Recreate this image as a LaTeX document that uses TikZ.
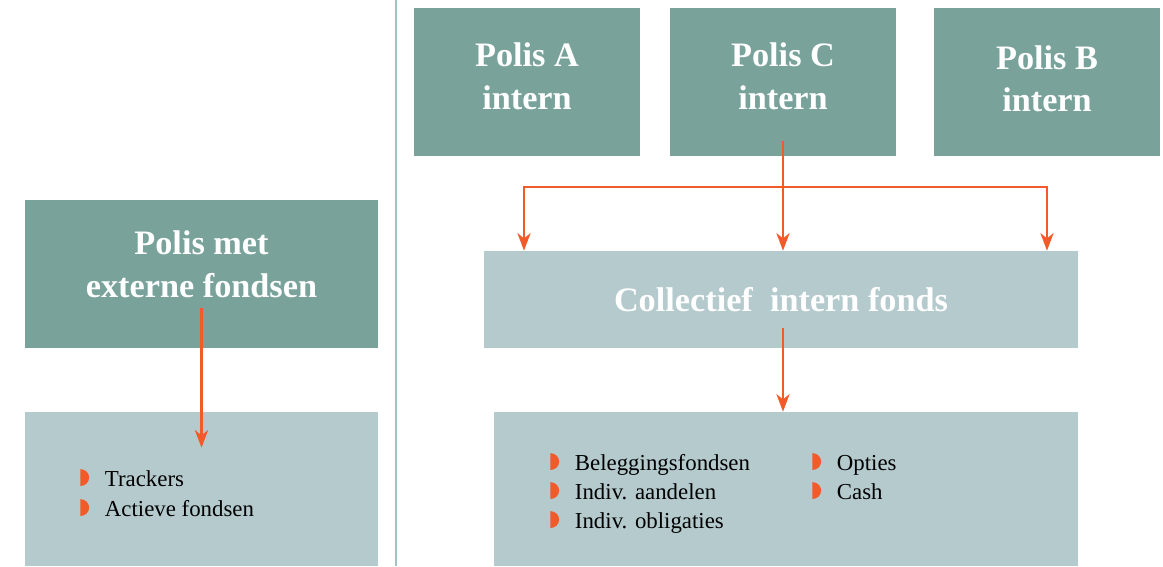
\documentclass[tikz,border=0pt]{standalone}
\usepackage{fontspec}
\setmainfont{Liberation Serif}
\usetikzlibrary{positioning, arrows.meta}

\definecolor{tealdark}{HTML}{78A29A}
\definecolor{teallight}{HTML}{B4CACD}
\definecolor{arroworange}{HTML}{F15A29}

\newcommand{\halfdot}{\tikz[baseline=0pt]\fill[arroworange] (0pt,0pt) -- (0pt,9.6pt)
  arc[start angle=90, end angle=-90, x radius=5pt, y radius=4.8pt] -- cycle;\hspace{9pt}}

\begin{document}
\begin{tikzpicture}[
    x=0.02cm, y=-0.02cm,
    head/.style={
        fill=tealdark,
        text=white,
        align=center,
        font=\fontsize{19.5}{24}\selectfont\bfseries,
        text depth=6.8pt,
        minimum width=4.52cm,
        minimum height=2.96cm
    },
    pale/.style={
        fill=teallight,
        minimum height=3.08cm
    },
    item/.style={
        anchor=base west,
        inner sep=0pt,
        font=\fontsize{13}{17}\selectfont
    },
    arrow/.style={->, line width=1.3pt, draw=arroworange},
    >={Stealth[length=10pt, width=7.5pt, inset=3pt]}
]
\useasboundingbox (0,0) rectangle (1163,566);

% divider
\draw[draw=teallight!90!teal, line width=0.6pt] (396,0) -- (396,566);

% left column
\node[head, minimum width=7.06cm, text depth=11.3pt] (extern) at (201.5,274) {Polis met\\externe fondsen};
\node[pale, minimum width=7.06cm] (externlist) at (201.5,489) {};
\node[item] (tr) at (80,486) {\halfdot Trackers};
\node[item] (ac) at (80,516) {\halfdot Actieve fondsen};

% right column
\node[head] (polisA) at (527,82) {Polis A\\intern};
\node[head] (polisC) at (783,82) {Polis C\\intern};
\node[head, text depth=3.4pt] (polisB) at (1047,82) {Polis B\\intern};

\node[pale, minimum width=11.88cm, minimum height=1.94cm,
      text=white, font=\fontsize{19.5}{24}\selectfont\bfseries]
      (collectief) at (781,299.5) {Collectief\ \ intern fonds};
\node[pale, minimum width=11.68cm] (internlist) at (786,489) {};

\node[item] (bf) at (550,470) {\halfdot Beleggingsfondsen};
\node[item] (ia) at (550,499) {\halfdot Indiv. aandelen};
\node[item] (io) at (550,528) {\halfdot Indiv. obligaties};
\node[item] (op) at (812,470) {\halfdot Opties};
\node[item] (ca) at (812,499) {\halfdot Cash};

\coordinate (bl) at (524,187);
\coordinate (br) at (1047,187);

\draw[arrow] ([yshift=9pt]polisC.south) -- (polisC.south |- collectief.north);
\draw[arrow, <->] (bl |- collectief.north) -- (bl) -- (br) -- (br |- collectief.north);
\draw[arrow] ([yshift=0.4cm]collectief.south -| polisC.south) -- (polisC.south |- internlist.north);
\draw[arrow] ([yshift=0.8cm]extern.south) -- ([yshift=-0.72cm]externlist.north);

\end{tikzpicture}
\end{document}
